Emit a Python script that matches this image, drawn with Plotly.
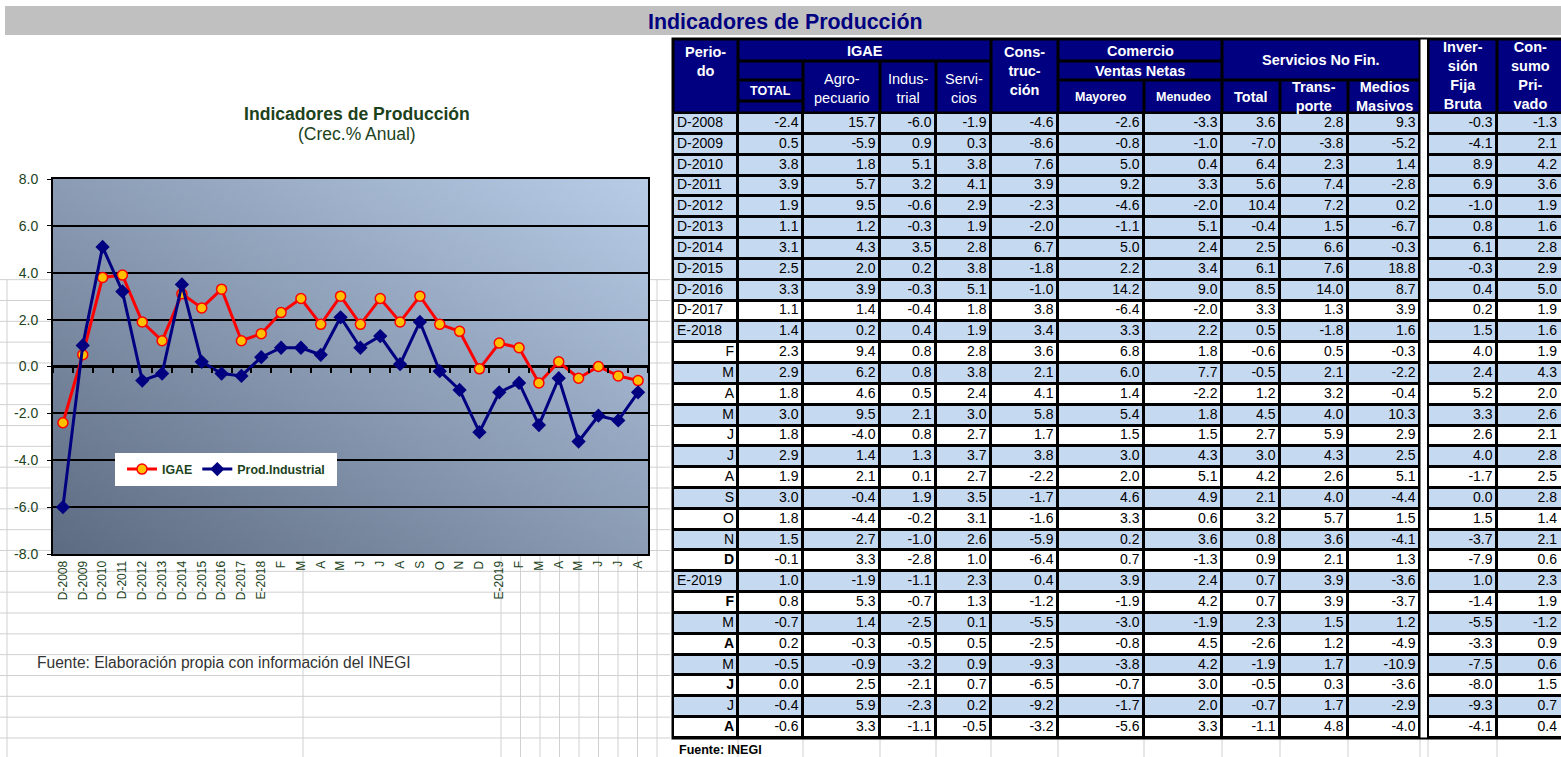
import base64
import struct
import zlib

import plotly.graph_objects as go

W, H = 1561, 757

# ---------------------------------------------------------------- data
periods = ["D-2008", "D-2009", "D-2010", "D-2011", "D-2012", "D-2013", "D-2014",
           "D-2015", "D-2016", "D-2017", "E-2018", "F", "M", "A", "M", "J", "J",
           "A", "S", "O", "N", "D", "E-2019", "F", "M", "A", "M", "J", "J", "A"]

igae_total = [-2.4, 0.5, 3.8, 3.9, 1.9, 1.1, 3.1, 2.5, 3.3, 1.1,
              1.4, 2.3, 2.9, 1.8, 3.0, 1.8, 2.9, 1.9, 3.0, 1.8, 1.5, -0.1,
              1.0, 0.8, -0.7, 0.2, -0.5, 0.0, -0.4, -0.6]
agropecuario = [15.7, -5.9, 1.8, 5.7, 9.5, 1.2, 4.3, 2.0, 3.9, 1.4,
                0.2, 9.4, 6.2, 4.6, 9.5, -4.0, 1.4, 2.1, -0.4, -4.4, 2.7, 3.3,
                -1.9, 5.3, 1.4, -0.3, -0.9, 2.5, 5.9, 3.3]
industrial = [-6.0, 0.9, 5.1, 3.2, -0.6, -0.3, 3.5, 0.2, -0.3, -0.4,
              0.4, 0.8, 0.8, 0.5, 2.1, 0.8, 1.3, 0.1, 1.9, -0.2, -1.0, -2.8,
              -1.1, -0.7, -2.5, -0.5, -3.2, -2.1, -2.3, -1.1]
servicios = [-1.9, 0.3, 3.8, 4.1, 2.9, 1.9, 2.8, 3.8, 5.1, 1.8,
             1.9, 2.8, 3.8, 2.4, 3.0, 2.7, 3.7, 2.7, 3.5, 3.1, 2.6, 1.0,
             2.3, 1.3, 0.1, 0.5, 0.9, 0.7, 0.2, -0.5]
construccion = [-4.6, -8.6, 7.6, 3.9, -2.3, -2.0, 6.7, -1.8, -1.0, 3.8,
                3.4, 3.6, 2.1, 4.1, 5.8, 1.7, 3.8, -2.2, -1.7, -1.6, -5.9, -6.4,
                0.4, -1.2, -5.5, -2.5, -9.3, -6.5, -9.2, -3.2]
mayoreo = [-2.6, -0.8, 5.0, 9.2, -4.6, -1.1, 5.0, 2.2, 14.2, -6.4,
           3.3, 6.8, 6.0, 1.4, 5.4, 1.5, 3.0, 2.0, 4.6, 3.3, 0.2, 0.7,
           3.9, -1.9, -3.0, -0.8, -3.8, -0.7, -1.7, -5.6]
menudeo = [-3.3, -1.0, 0.4, 3.3, -2.0, 5.1, 2.4, 3.4, 9.0, -2.0,
           2.2, 1.8, 7.7, -2.2, 1.8, 1.5, 4.3, 5.1, 4.9, 0.6, 3.6, -1.3,
           2.4, 4.2, -1.9, 4.5, 4.2, 3.0, 2.0, 3.3]
snf_total = [3.6, -7.0, 6.4, 5.6, 10.4, -0.4, 2.5, 6.1, 8.5, 3.3,
             0.5, -0.6, -0.5, 1.2, 4.5, 2.7, 3.0, 4.2, 2.1, 3.2, 0.8, 0.9,
             0.7, 0.7, 2.3, -2.6, -1.9, -0.5, -0.7, -1.1]
transporte = [2.8, -3.8, 2.3, 7.4, 7.2, 1.5, 6.6, 7.6, 14.0, 1.3,
              -1.8, 0.5, 2.1, 3.2, 4.0, 5.9, 4.3, 2.6, 4.0, 5.7, 3.6, 2.1,
              3.9, 3.9, 1.5, 1.2, 1.7, 0.3, 1.7, 4.8]
medios_masivos = [9.3, -5.2, 1.4, -2.8, 0.2, -6.7, -0.3, 18.8, 8.7, 3.9,
                  1.6, -0.3, -2.2, -0.4, 10.3, 2.9, 2.5, 5.1, -4.4, 1.5, -4.1, 1.3,
                  -3.6, -3.7, 1.2, -4.9, -10.9, -3.6, -2.9, -4.0]
inversion = [-0.3, -4.1, 8.9, 6.9, -1.0, 0.8, 6.1, -0.3, 0.4, 0.2,
             1.5, 4.0, 2.4, 5.2, 3.3, 2.6, 4.0, -1.7, 0.0, 1.5, -3.7, -7.9,
             1.0, -1.4, -5.5, -3.3, -7.5, -8.0, -9.3, -4.1]
consumo = [-1.3, 2.1, 4.2, 3.6, 1.9, 1.6, 2.8, 2.9, 5.0, 1.9,
           1.6, 1.9, 4.3, 2.0, 2.6, 2.1, 2.8, 2.5, 2.8, 1.4, 2.1, 0.6,
           2.3, 1.9, -1.2, 0.9, 0.6, 1.5, 0.7, 0.4]

y_ticks = [-8, -6, -4, -2, 0, 2, 4, 6, 8]

# ---------------------------------------------------------------- style
FONT = "Liberation Sans, Arial, sans-serif"
GREEN = "#1c421c"
NAVY = "#000080"
BLUE_ROW = "#c5d9f1"
GRID = "#d0d0d0"
BOLD_PERIODS = {21, 23, 25, 27, 29}


def px(x):
    return x / W


def py(y):
    return 1 - y / H


def to_png(width, height, pixel):
    # tiny png encoder for the plot area gradient
    raw = bytearray()
    for j in range(height):
        raw.append(0)
        for i in range(width):
            raw.extend(pixel(i, j))

    def chunk(tag, body):
        return (struct.pack(">I", len(body)) + tag + body
                + struct.pack(">I", zlib.crc32(tag + body) & 0xFFFFFFFF))

    png = (b"\x89PNG\r\n\x1a\n"
           + chunk(b"IHDR", struct.pack(">IIBBBBB", width, height, 8, 2, 0, 0, 0))
           + chunk(b"IDAT", zlib.compress(bytes(raw), 9))
           + chunk(b"IEND", b""))
    return "data:image/png;base64," + base64.b64encode(png).decode()


DARK, LIGHT = (94, 108, 130), (184, 204, 231)
GW, GH = 96, 64


def gradient(i, j):
    s = (i / (GW - 1) + 1 - j / (GH - 1)) / 2
    return [round(d + (l - d) * s) for d, l in zip(DARK, LIGHT)]


# chart plot area in pixels
PX0, PX1, PY0, PY1 = 53, 648, 179, 554
# table geometry in pixels
col_edges = [673, 738, 803, 880, 936, 991, 1058, 1144, 1222, 1280, 1348,
             1420, 1428, 1497, 1566]
ROW0, ROW_H = 113, 20.833
n = len(periods)
row_edges = [ROW0 + k * ROW_H for k in range(n + 1)]
row_mid = [ROW0 + (k + 0.5) * ROW_H for k in range(n)]

fig = go.Figure()

# ---------------------------------------------------------------- chart
xs = list(range(n))
fig.add_trace(go.Scatter(
    x=xs, y=igae_total, mode="lines+markers", name="IGAE",
    line=dict(color="#ff0000", width=3),
    marker=dict(symbol="circle", size=10, color="#ffc000",
                line=dict(color="#ff0000", width=1.5)),
    hoverinfo="skip"
))
fig.add_trace(go.Scatter(
    x=xs, y=industrial, mode="lines+markers", name="Prod.Industrial",
    line=dict(color="#000080", width=3),
    marker=dict(symbol="diamond", size=11, color="#000080"),
    hoverinfo="skip"
))
# helper so the tick axis on the zero line gets drawn
fig.add_trace(go.Scatter(x=[None], y=[None], xaxis="x2", yaxis="y",
                         showlegend=False, hoverinfo="skip"))

# ---------------------------------------------------------------- table
blue = [1 if (i < 9 or i % 2 == 0) else 0 for i in range(n)]
z = [[b] * (len(col_edges) - 1) for b in blue]
for row in z:
    row[11] = 0
fig.add_trace(go.Heatmap(
    x=col_edges, y=row_edges, z=z, xaxis="x3", yaxis="y3",
    colorscale=[[0, "#ffffff"], [1, BLUE_ROW]], zmin=0, zmax=1,
    showscale=False, xgap=3, ygap=3, hoverinfo="skip"
))

body_cols = [igae_total, agropecuario, industrial, servicios, construccion,
             mayoreo, menudeo, snf_total, transporte, medios_masivos,
             inversion, consumo]
right_edges = col_edges[2:12] + col_edges[13:15]
tx, ty, tt, tp = [], [], [], []
for i, label in enumerate(periods):
    lbl = f"<b>{label}</b>" if i in BOLD_PERIODS else label
    if "-" in label:
        tx.append(col_edges[0] + 4)
        tp.append("middle right")
    else:
        tx.append(col_edges[1] - 4)
        tp.append("middle left")
    ty.append(row_mid[i])
    tt.append(lbl)
    for col, edge in zip(body_cols, right_edges):
        tx.append(min(edge - 4.5, 1557))
        ty.append(row_mid[i])
        tt.append(f"{col[i]:.1f}")
        tp.append("middle left")
fig.add_trace(go.Scatter(
    x=tx, y=ty, text=tt, textposition=tp, mode="text", xaxis="x3", yaxis="y3",
    textfont=dict(family=FONT, size=14, color="#000000"),
    cliponaxis=False, showlegend=False, hoverinfo="skip"
))

# header cells: x0, x1, y0, y1, text, text-y, size, bold
header = [
    (673, 738, 39, 113, "Perio-<br>do", 61, 14.5, True),
    (738, 991, 39, 61, "IGAE", 50.5, 14.5, True),
    (738, 803, 61, 80, "", 0, 0, True),
    (738, 803, 80, 101, "TOTAL", 91, 12.5, True),
    (738, 803, 101, 113, "", 0, 0, True),
    (803, 880, 61, 113, "Agro-<br>pecuario", 88.5, 14.5, False),
    (880, 936, 61, 113, "Indus-<br>trial", 88.5, 14.5, False),
    (936, 991, 61, 113, "Servi-<br>cios", 88.5, 14.5, False),
    (991, 1058, 39, 113, "Cons-<br>truc-<br>ción", 70.5, 14.5, True),
    (1058, 1222, 39, 61, "Comercio", 50.5, 14.5, True),
    (1058, 1222, 61, 80, "Ventas Netas", 70.5, 14.5, True),
    (1058, 1144, 80, 113, "Mayoreo", 97, 12.5, True),
    (1144, 1222, 80, 113, "Menudeo", 97, 12.5, True),
    (1222, 1420, 39, 80, "Servicios No Fin.", 59.5, 14.5, True),
    (1222, 1280, 80, 113, "Total", 97, 14.5, True),
    (1280, 1348, 80, 113, "Trans-<br>porte", 96.5, 14.5, True),
    (1348, 1420, 80, 113, "Medios<br>Masivos", 96.5, 14.5, True),
    (1428, 1497, 39, 113, "Inver-<br>sión<br>Fija<br>Bruta", 75, 14.5, True),
    (1497, 1566, 39, 113, "Con-<br>sumo<br>Pri-<br>vado", 75, 14.5, True),
]

shapes = []
annotations = []

# spreadsheet grid behind everything
for k in range(8, n + 2):
    y = ROW0 + k * ROW_H
    shapes.append(dict(type="line", xref="paper", yref="paper", layer="below",
                       x0=0, x1=px(670), y0=py(y), y1=py(y),
                       line=dict(color=GRID, width=1)))
for x in [7, 303, 501, 520.5, 540, 559.5, 579, 598.5, 618, 637.5, 657]:
    shapes.append(dict(type="line", xref="paper", yref="paper", layer="below",
                       x0=px(x), x1=px(x), y0=py(279.7), y1=0,
                       line=dict(color=GRID, width=1)))
for x in col_edges[1:-1]:
    shapes.append(dict(type="line", xref="paper", yref="paper", layer="below",
                       x0=px(x), x1=px(x), y0=py(739), y1=0,
                       line=dict(color=GRID, width=1)))

# grey banner on top
shapes.append(dict(type="rect", xref="paper", yref="paper", layer="below",
                   x0=px(5), x1=1, y0=py(35), y1=py(6),
                   fillcolor="#c0c0c0", line=dict(width=0)))

# table black backdrop (borders come from the gaps)
shapes.append(dict(type="rect", xref="x3", yref="y3", layer="below",
                   x0=671.5, x1=1566, y0=37.5, y1=739.5,
                   fillcolor="#000000", line=dict(width=0)))
for x0, x1, y0, y1, text, ty_, size, bold in header:
    shapes.append(dict(type="rect", xref="x3", yref="y3", layer="below",
                       x0=x0 + 1.5, x1=x1 - 1.5, y0=y0 + 1.5, y1=y1 - 1.5,
                       fillcolor=NAVY, line=dict(width=0)))
    if text:
        annotations.append(dict(
            xref="x3", yref="y3", x=(x0 + x1) / 2 if x1 < 1561 else 1530.5,
            y=ty_, text=text, showarrow=False, yanchor="middle",
            font=dict(family=FONT, size=size, color="#ffffff",
                      weight="bold" if bold else "normal")))
# white separator column
shapes.append(dict(type="rect", xref="x3", yref="y3", layer="above",
                   x0=1420.5, x1=1427, y0=39.5, y1=737.5,
                   fillcolor="#ffffff", line=dict(width=0)))

# legend box
shapes.append(dict(type="rect", xref="paper", yref="paper", layer="above",
                   x0=px(115), x1=px(337), y0=py(486), y1=py(453),
                   fillcolor="#ffffff", line=dict(width=0)))

annotations += [
    dict(xref="paper", yref="paper", x=px(785), y=py(22), xanchor="center",
         yanchor="middle", text="<b>Indicadores de Producción</b>",
         showarrow=False, font=dict(family=FONT, size=21.4, color=NAVY)),
    dict(xref="paper", yref="paper", x=px(357), y=py(114), xanchor="center",
         yanchor="middle", text="<b>Indicadores de Producción</b>",
         showarrow=False, font=dict(family=FONT, size=17.6, color=GREEN)),
    dict(xref="paper", yref="paper", x=px(357), y=py(134), xanchor="center",
         yanchor="middle", text="(Crec.% Anual)",
         showarrow=False, font=dict(family=FONT, size=17.5, color=GREEN)),
    dict(xref="paper", yref="paper", x=px(35), y=py(662), xanchor="left",
         yanchor="middle",
         text="Fuente: Elaboración propia con información del INEGI",
         showarrow=False, font=dict(family=FONT, size=15.6, color="#333333")),
    dict(xref="paper", yref="paper", x=px(677), y=py(750), xanchor="left",
         yanchor="middle",
         text="<b>Fuente: INEGI</b>", showarrow=False,
         font=dict(family=FONT, size=12.5, color="#000000")),
]

fig.update_layout(
    width=W, height=H,
    margin=dict(l=0, r=0, t=0, b=0, pad=0, autoexpand=False),
    paper_bgcolor="#ffffff",
    plot_bgcolor="rgba(0,0,0,0)",
    font=dict(family=FONT, color=GREEN),
    shapes=shapes,
    annotations=annotations,
    images=[dict(source=to_png(GW, GH, gradient), xref="x domain", yref="y domain",
                 x=0, y=1, sizex=1, sizey=1, sizing="stretch",
                 xanchor="left", yanchor="top", layer="below")],
    showlegend=True,
    legend=dict(orientation="h", x=px(122), y=py(469.5), xanchor="left",
                yanchor="middle", bgcolor="rgba(0,0,0,0)",
                font=dict(family=FONT, size=12.4, color=GREEN, weight="bold")),
    xaxis=dict(domain=[px(PX0), px(PX1)], range=[-0.5, n - 0.5], anchor="y",
               tickmode="array", tickvals=xs, ticktext=periods, tickangle=-90,
               tickfont=dict(family=FONT, size=12, color=GREEN),
               showgrid=False, zeroline=False, ticks="", automargin=False,
               showline=True, linecolor="#000000", linewidth=2, mirror=True),
    xaxis2=dict(overlaying="x", anchor="free", automargin=False,
                position=(py(PY0) + py(PY1)) / 2, range=[-0.5, n - 0.5],
                tickmode="array", tickvals=[k - 0.5 for k in range(n + 1)],
                ticks="outside", ticklen=5, tickwidth=2, tickcolor="#000000",
                showticklabels=False, showgrid=False, zeroline=False,
                showline=False),
    yaxis=dict(domain=[py(PY1), py(PY0)], range=[-8, 8], automargin=False,
               tickmode="array", tickvals=y_ticks,
               ticktext=[f"{v:.1f}" for v in y_ticks],
               tickfont=dict(family=FONT, size=14, color=GREEN),
               showgrid=True, gridcolor="#000000", gridwidth=1.5,
               zeroline=True, zerolinecolor="#000000", zerolinewidth=3,
               showline=True, linecolor="#000000", linewidth=2, mirror=True,
               ticks="outside", ticklen=4, tickcolor="#000000",
               ticklabelstandoff=6),
    xaxis3=dict(domain=[px(668), 1], range=[668, W], visible=False,
                fixedrange=True, automargin=False),
    yaxis3=dict(domain=[py(742), py(36)], range=[742, 36], visible=False,
                fixedrange=True, automargin=False),
)

fig.write_html("out.html", config={"displayModeBar": False},
               post_script="document.body.style.margin='0';"
                           "document.body.style.overflow='hidden';")
